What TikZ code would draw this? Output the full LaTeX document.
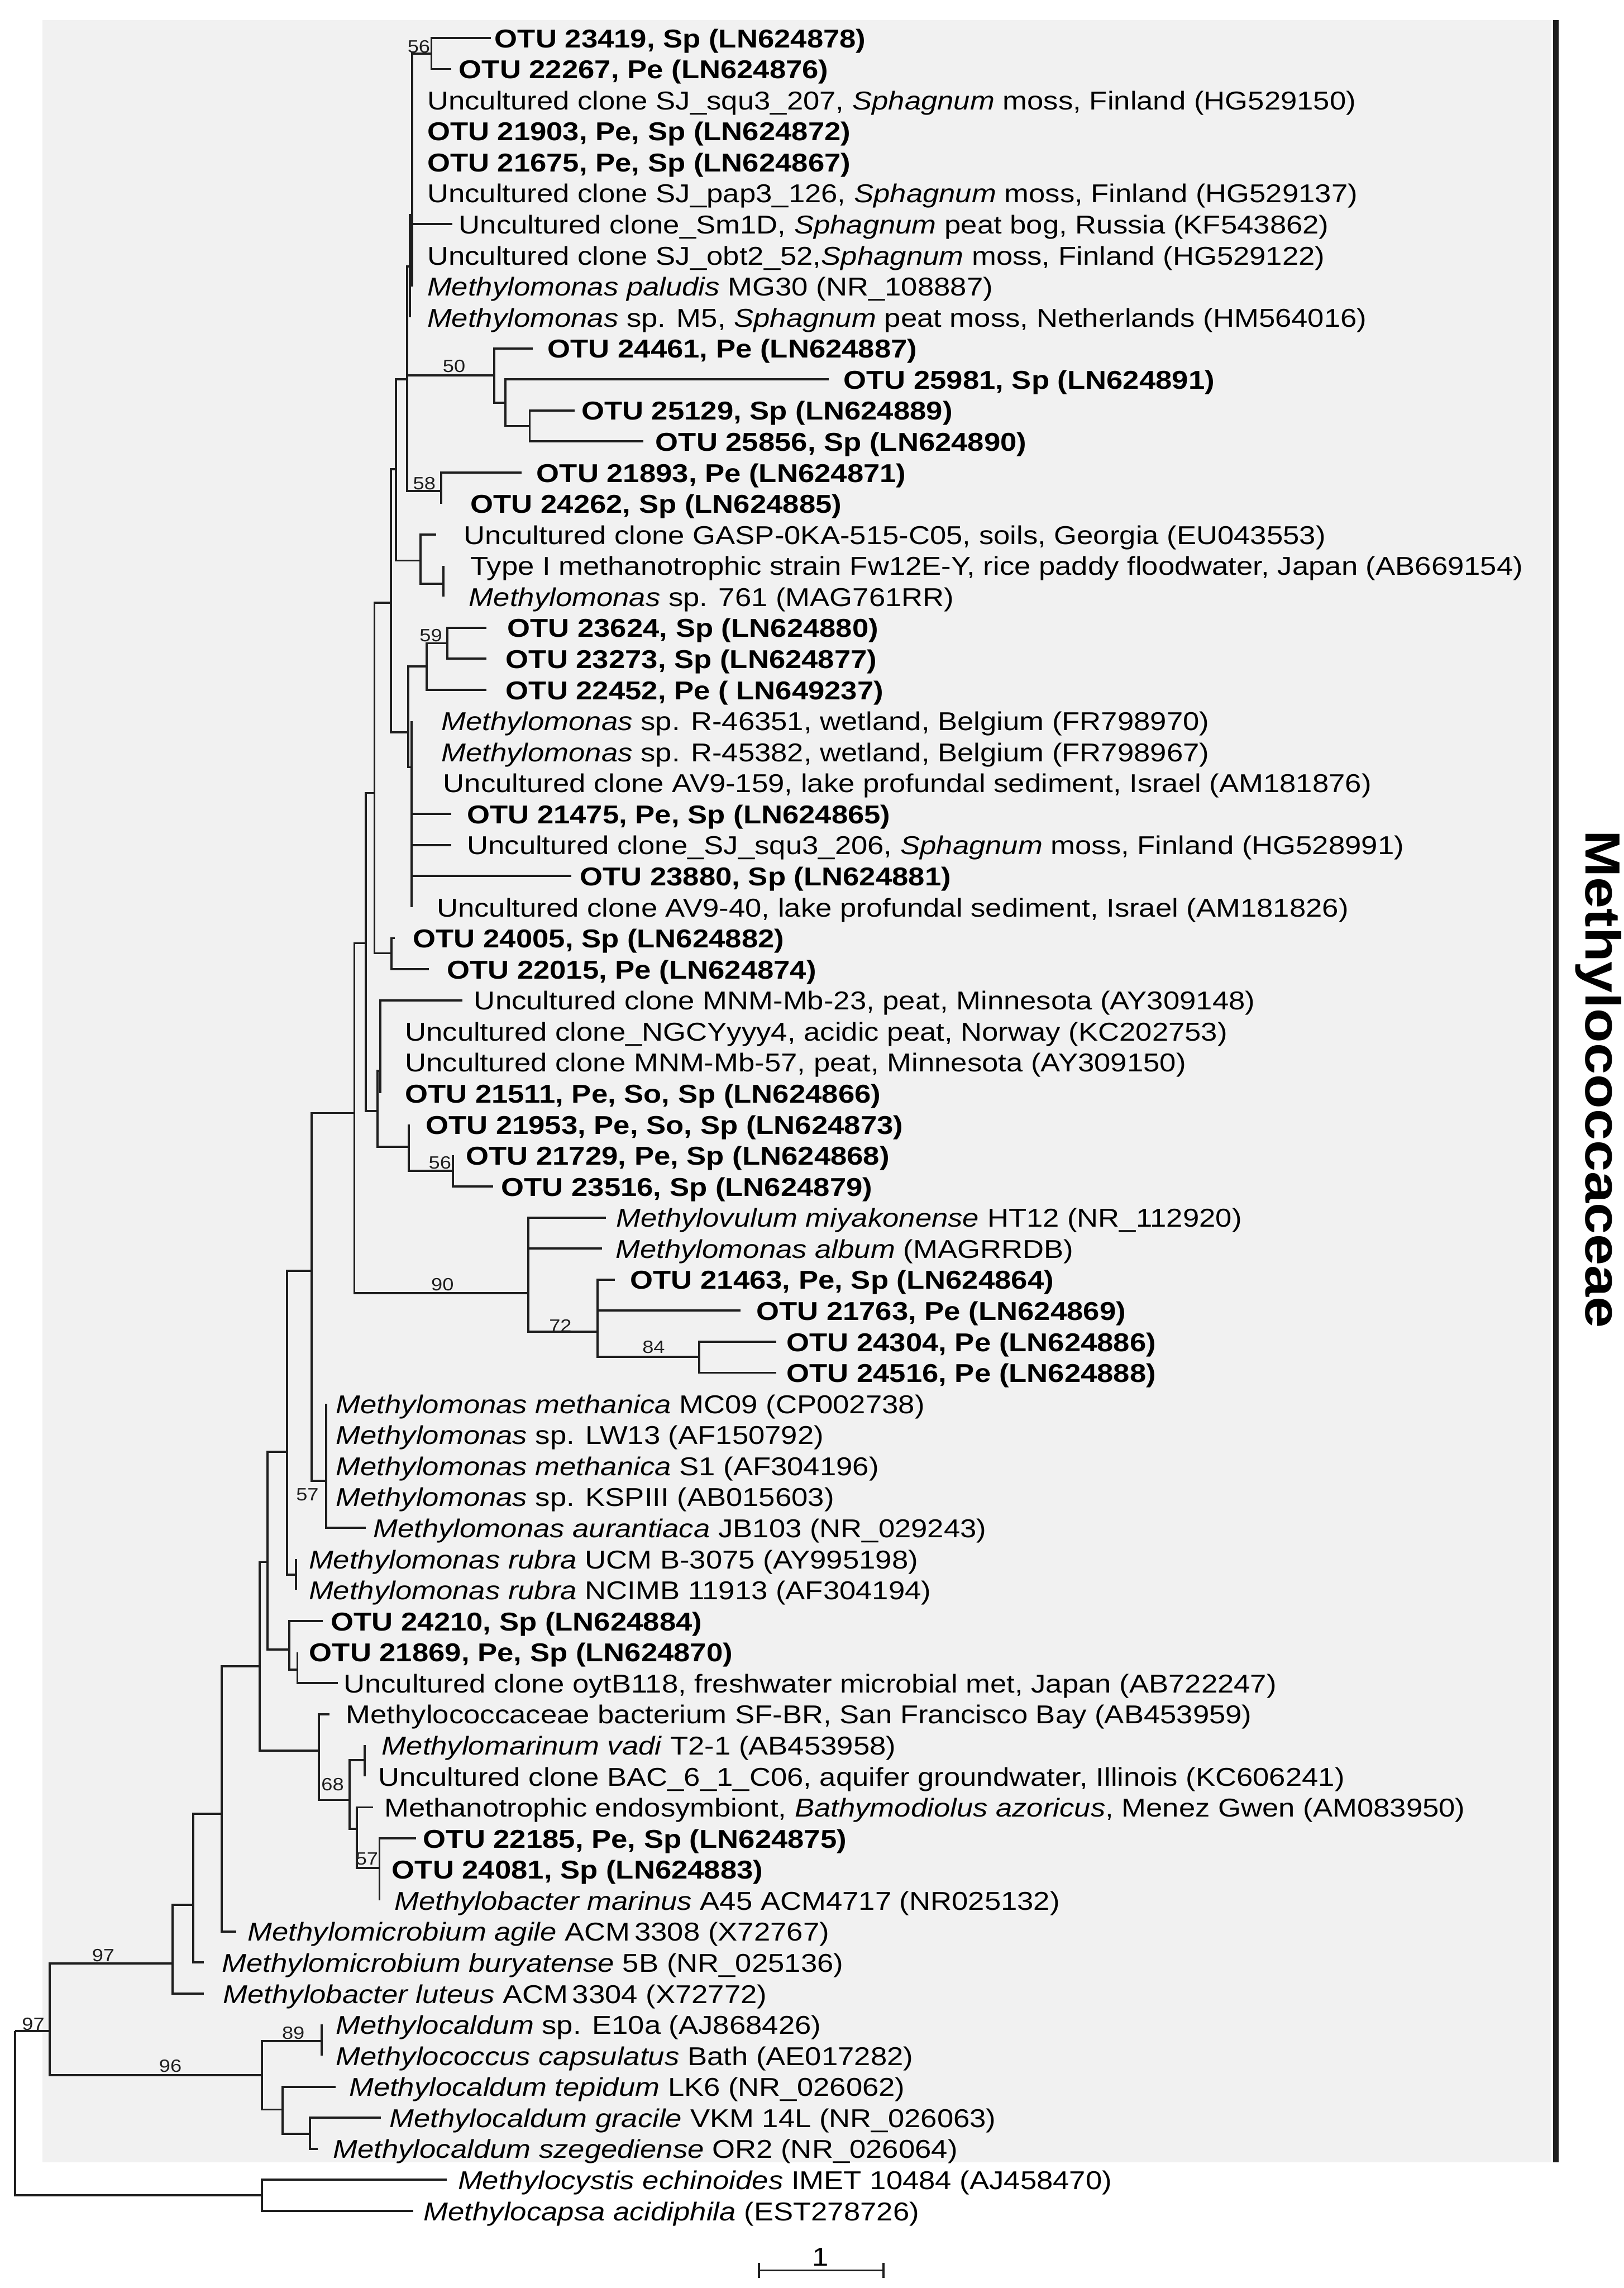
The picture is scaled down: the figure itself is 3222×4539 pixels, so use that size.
\documentclass[tikz,border=0pt]{standalone}
\usepackage{fontspec}
\setmainfont[FakeStretch=1.14]{Liberation Sans}
\pgfmathdeclarefunction{ry}{1}{\pgfmathparse{75.3+61.58*(#1-1)}}
\definecolor{bggray}{RGB}{241,241,241}
\definecolor{linec}{RGB}{30,30,30}
\newcommand\leafnode[5]{\coordinate (t#1) at (#2,{ry(#1)}); \node[#4] (L#1) at (#3,{ry(#1)+19}) {#5};}
\tikzset{
  br/.style={draw=linec, line width=1.05pt},
  reg/.style={anchor=base west, inner sep=0pt, font=\fontsize{12.8}{14}\selectfont},
  otu/.style={anchor=base west, inner sep=0pt, font=\fontsize{12.8}{14}\selectfont\bfseries},
  boot/.style={inner sep=0pt, font=\fontsize{8.8}{10}\selectfont, text=linec},
}
\begin{document}
\begin{tikzpicture}[x=0.25pt,y=-0.25pt]
\useasboundingbox (0,0) rectangle (3222,4539);
\fill[white] (0,0) rectangle (3222,4539);
\fill[bggray] (84,40) rectangle (3078,4290);
\coordinate (bartop) at (3087,40);
\coordinate (barbot) at (3087,4290);
\draw[linec, line width=2.75pt] (bartop) -- (barbot);
\node[rotate=-90, inner sep=0pt, font=\fontsize{24.5}{27}\selectfont\bfseries] (fam) at (3172,2141) {Methylococcaceae};

% leaves
\leafnode{1}{974}{981}{otu}{OTU 23419, Sp (LN624878)}
\leafnode{2}{895}{910}{otu}{OTU 22267, Pe (LN624876)}
\leafnode{3}{818}{847}{reg}{Uncultured clone SJ\_squ3\_207, \textit{Sphagnum} moss, Finland (HG529150)}
\leafnode{4}{818}{847}{otu}{OTU 21903, Pe, Sp (LN624872)}
\leafnode{5}{818}{847}{otu}{OTU 21675, Pe, Sp (LN624867)}
\leafnode{6}{818}{847}{reg}{Uncultured clone SJ\_pap3\_126, \textit{Sphagnum} moss, Finland (HG529137)}
\leafnode{7}{898}{910}{reg}{Uncultured clone\_Sm1D, \textit{Sphagnum} peat bog, Russia (KF543862)}
\leafnode{8}{818}{847}{reg}{Uncultured clone SJ\_obt2\_52,\textit{Sphagnum} moss, Finland (HG529122)}
\leafnode{9}{818}{847}{reg}{\textit{Methylomonas paludis} MG30 (NR\_108887)}
\leafnode{10}{813}{847}{reg}{\textit{Methylomonas} sp. M5, \textit{Sphagnum} peat moss, Netherlands (HM564016)}
\leafnode{11}{1057}{1086}{otu}{OTU 24461, Pe (LN624887)}
\leafnode{12}{1644}{1673}{otu}{OTU 25981, Sp (LN624891)}
\leafnode{13}{1140}{1153}{otu}{OTU 25129, Sp (LN624889)}
\leafnode{14}{1277}{1300}{otu}{OTU 25856, Sp (LN624890)}
\leafnode{15}{1035}{1064}{otu}{OTU 21893, Pe (LN624871)}
\leafnode{16}{875}{933}{otu}{OTU 24262, Sp (LN624885)}
\leafnode{17}{866}{920}{reg}{Uncultured clone GASP-0KA-515-C05, soils, Georgia (EU043553)}
\leafnode{18}{880}{933}{reg}{Type I methanotrophic strain Fw12E-Y, rice paddy floodwater, Japan (AB669154)}
\leafnode{19}{880}{930}{reg}{\textit{Methylomonas} sp. 761 (MAG761RR)}
\leafnode{20}{965}{1006}{otu}{OTU 23624, Sp (LN624880)}
\leafnode{21}{965}{1003}{otu}{OTU 23273, Sp (LN624877)}
\leafnode{22}{965}{1003}{otu}{OTU 22452, Pe ( LN649237)}
\leafnode{23}{817}{875}{reg}{\textit{Methylomonas} sp. R-46351, wetland, Belgium (FR798970)}
\leafnode{24}{817}{875}{reg}{\textit{Methylomonas} sp. R-45382, wetland, Belgium (FR798967)}
\leafnode{25}{817}{879}{reg}{Uncultured clone AV9-159, lake profundal sediment, Israel (AM181876)}
\leafnode{26}{895}{926}{otu}{OTU 21475, Pe, Sp (LN624865)}
\leafnode{27}{895}{926}{reg}{Uncultured clone\_SJ\_squ3\_206, \textit{Sphagnum} moss, Finland (HG528991)}
\leafnode{28}{1134}{1150}{otu}{OTU 23880, Sp (LN624881)}
\leafnode{29}{817}{866}{reg}{Uncultured clone AV9-40, lake profundal sediment, Israel (AM181826)}
\leafnode{30}{784}{819}{otu}{OTU 24005, Sp (LN624882)}
\leafnode{31}{851}{886}{otu}{OTU 22015, Pe (LN624874)}
\leafnode{32}{918}{940}{reg}{Uncultured clone MNM-Mb-23, peat, Minnesota (AY309148)}
\leafnode{33}{755}{803}{reg}{Uncultured clone\_NGCYyyy4, acidic peat, Norway (KC202753)}
\leafnode{34}{755}{803}{reg}{Uncultured clone MNM-Mb-57, peat, Minnesota (AY309150)}
\leafnode{35}{755}{803}{otu}{OTU 21511, Pe, So, Sp (LN624866)}
\leafnode{36}{811}{844}{otu}{OTU 21953, Pe, So, Sp (LN624873)}
\leafnode{37}{899}{924}{otu}{OTU 21729, Pe, Sp (LN624868)}
\leafnode{38}{978}{994}{otu}{OTU 23516, Sp (LN624879)}
\leafnode{39}{1202}{1222}{reg}{\textit{Methylovulum miyakonense} HT12 (NR\_112920)}
\leafnode{40}{1195}{1221}{reg}{\textit{Methylomonas album} (MAGRRDB)}
\leafnode{41}{1220}{1250}{otu}{OTU 21463, Pe, Sp (LN624864)}
\leafnode{42}{1469}{1500}{otu}{OTU 21763, Pe (LN624869)}
\leafnode{43}{1540}{1560}{otu}{OTU 24304, Pe (LN624886)}
\leafnode{44}{1540}{1560}{otu}{OTU 24516, Pe (LN624888)}
\leafnode{45}{647}{666}{reg}{\textit{Methylomonas methanica} MC09 (CP002738)}
\leafnode{46}{647}{666}{reg}{\textit{Methylomonas} sp. LW13 (AF150792)}
\leafnode{47}{647}{666}{reg}{\textit{Methylomonas methanica} S1 (AF304196)}
\leafnode{48}{647}{666}{reg}{\textit{Methylomonas} sp. KSPIII (AB015603)}
\leafnode{49}{726}{740}{reg}{\textit{Methylomonas aurantiaca} JB103 (NR\_029243)}
\leafnode{50}{587}{612}{reg}{\textit{Methylomonas rubra} UCM B-3075 (AY995198)}
\leafnode{51}{587}{612}{reg}{\textit{Methylomonas rubra} NCIMB 11913 (AF304194)}
\leafnode{52}{641}{656}{otu}{OTU 24210, Sp (LN624884)}
\leafnode{53}{590}{613}{otu}{OTU 21869, Pe, Sp (LN624870)}
\leafnode{54}{670}{681}{reg}{Uncultured clone oytB118, freshwater microbial met, Japan (AB722247)}
\leafnode{55}{654}{686}{reg}{Methylococcaceae bacterium SF-BR, San Francisco Bay (AB453959)}
\leafnode{56}{724}{757}{reg}{\textit{Methylomarinum vadi} T2-1 (AB453958)}
\leafnode{57}{724}{750}{reg}{Uncultured clone BAC\_6\_1\_C06, aquifer groundwater, Illinois (KC606241)}
\leafnode{58}{740}{762}{reg}{Methanotrophic endosymbiont, \textit{Bathymodiolus azoricus}, Menez Gwen (AM083950)}
\leafnode{59}{826}{839}{otu}{OTU 22185, Pe, Sp (LN624875)}
\leafnode{60}{753}{777}{otu}{OTU 24081, Sp (LN624883)}
\leafnode{61}{753}{782}{reg}{\textit{Methylobacter marinus} A45 ACM4717 (NR025132)}
\leafnode{62}{469}{491}{reg}{\textit{Methylomicrobium agile} ACM\,3308 (X72767)}
\leafnode{63}{405}{440}{reg}{\textit{Methylomicrobium buryatense} 5B (NR\_025136)}
\leafnode{64}{405}{442}{reg}{\textit{Methylobacter luteus} ACM\,3304 (X72772)}
\leafnode{65}{638}{666}{reg}{\textit{Methylocaldum} sp. E10a (AJ868426)}
\leafnode{66}{638}{666}{reg}{\textit{Methylococcus capsulatus} Bath (AE017282)}
\leafnode{67}{666}{692}{reg}{\textit{Methylocaldum tepidum} LK6 (NR\_026062)}
\leafnode{68}{756}{772}{reg}{\textit{Methylocaldum gracile} VKM 14L (NR\_026063)}
\leafnode{69}{631}{660}{reg}{\textit{Methylocaldum szegediense} OR2 (NR\_026064)}
\leafnode{70}{886}{908}{reg}{\textit{Methylocystis echinoides} IMET 10484 (AJ458470)}
\leafnode{71}{820}{840}{reg}{\textit{Methylocapsa acidiphila} (EST278726)}

% internal nodes
\coordinate (root) at (30,4029);
\coordinate (A) at (99,4029);
\coordinate (OG) at (520,4355);
\coordinate (B) at (342,3895);
\coordinate (C) at (383,3779);
\coordinate (AF) at (440,3598);
\coordinate (AB) at (515,3306);
\coordinate (AA) at (531,3099);
\coordinate (AE) at (633,3473);
\coordinate (N68) at (694,3571);
\coordinate (AG) at (724,3492);
\coordinate (AH) at (708,3628);
\coordinate (N57b) at (753,3706);
\coordinate (AC) at (574,3272);
\coordinate (AD) at (590,3312);
\coordinate (Y) at (570,2880);
\coordinate (Z) at (587,3124);
\coordinate (U) at (618,2521);
\coordinate (N57) at (647,2938);
\coordinate (Q6) at (703,2208);
\coordinate (N90) at (1048,2565);
\coordinate (N72) at (1186,2642);
\coordinate (N84) at (1387,2692);
\coordinate (Q5) at (726,1871);
\coordinate (V) at (749,2204);
\coordinate (X) at (755,2124);
\coordinate (W) at (811,2275);
\coordinate (N56b) at (899,2323);
\coordinate (Q4) at (743,1573);
\coordinate (S) at (777,1891);
\coordinate (Q3) at (776,1196);
\coordinate (R) at (810,1453);
\coordinate (R2) at (817,1522);
\coordinate (T) at (847,1322);
\coordinate (N59) at (888,1276);
\coordinate (Q2) at (786,931);
\coordinate (G1) at (834,1112);
\coordinate (G2) at (880,1158);
\coordinate (Q1) at (808,752);
\coordinate (P0) at (813,529);
\coordinate (P1) at (818,426);
\coordinate (N56) at (856,106);
\coordinate (N50) at (981,745);
\coordinate (N50b) at (1003,799);
\coordinate (N50c) at (1051,845);
\coordinate (N58) at (875,974);
\coordinate (D) at (520,4117);
\coordinate (N89) at (638,4049);
\coordinate (E) at (561,4185);
\coordinate (F) at (615,4233);

% branches
\foreach \p/\c in {root/A, root/OG, OG/t70, OG/t71, A/B, A/D, B/C, B/t64, C/AF, C/t63,
  AF/AB, AF/t62, AB/AA, AB/AE, AE/t55, AE/N68, N68/AG, N68/AH, AG/t56, AG/t57,
  AH/t58, AH/N57b, N57b/t59, N57b/t60, N57b/t61, AA/Y, AA/AC, AC/t52, AC/AD,
  AD/t53, AD/t54, Y/U, Y/Z, Z/t50, Z/t51, U/Q6, U/N57, N57/t45, N57/t46, N57/t47,
  N57/t48, N57/t49, Q6/Q5, Q6/N90, N90/t39, N90/t40, N90/N72, N72/t41, N72/t42,
  N72/N84, N84/t43, N84/t44, Q5/Q4, Q5/V, V/X, V/W, X/t32, X/t33, X/t34, X/t35,
  W/t36, W/N56b, N56b/t37, N56b/t38, Q4/Q3, Q4/S, S/t30, S/t31, Q3/Q2, Q3/R,
  R/T, R/R2, R2/t23, R2/t24, R2/t25, R2/t26, R2/t27, R2/t28, R2/t29, T/N59, T/t22,
  N59/t20, N59/t21, Q2/Q1, Q2/G1, G1/t17, G1/G2, G2/t18, G2/t19, Q1/P0, Q1/N50,
  Q1/N58, P0/P1, P0/t10, P1/N56, P1/t3, P1/t4, P1/t5, P1/t6, P1/t7, P1/t8, P1/t9,
  N56/t1, N56/t2, N50/t11, N50/N50b, N50b/t12, N50b/N50c, N50c/t13, N50c/t14,
  N58/t15, N58/t16, D/N89, D/E, N89/t65, N89/t66, E/t67, E/F, F/t68, F/t69}
  {\draw[br] (\p) |- (\c);}

% bootstrap values
\node[boot] (b1) at (831,93) {56};
\node[boot] (b2) at (901,727) {50};
\node[boot] (b3) at (842,959) {58};
\node[boot] (b4) at (855,1261) {59};
\node[boot] (b5) at (873,2307) {56};
\node[boot] (b6) at (878,2548) {90};
\node[boot] (b7) at (1112,2630) {72};
\node[boot] (b8) at (1297,2672) {84};
\node[boot] (b9) at (610,2965) {57};
\node[boot] (b10) at (660,3540) {68};
\node[boot] (b11) at (728,3688) {57};
\node[boot] (b12) at (205,3879) {97};
\node[boot] (b13) at (66,4015) {97};
\node[boot] (b14) at (338,4099) {96};
\node[boot] (b15) at (582,4033) {89};

% scale bar
\coordinate (sbl) at (1506,4504);
\coordinate (sbr) at (1753,4504);
\draw[br] (sbl) -- (sbr);
\draw[br] ([yshift=-15*0.25pt]sbl) -- ([yshift=15*0.25pt]sbl);
\draw[br] ([yshift=-15*0.25pt]sbr) -- ([yshift=15*0.25pt]sbr);
\node[inner sep=0pt, font=\fontsize{12.8}{14}\selectfont] (sblab) at (1628,4478) {1};
\end{tikzpicture}
\end{document}
